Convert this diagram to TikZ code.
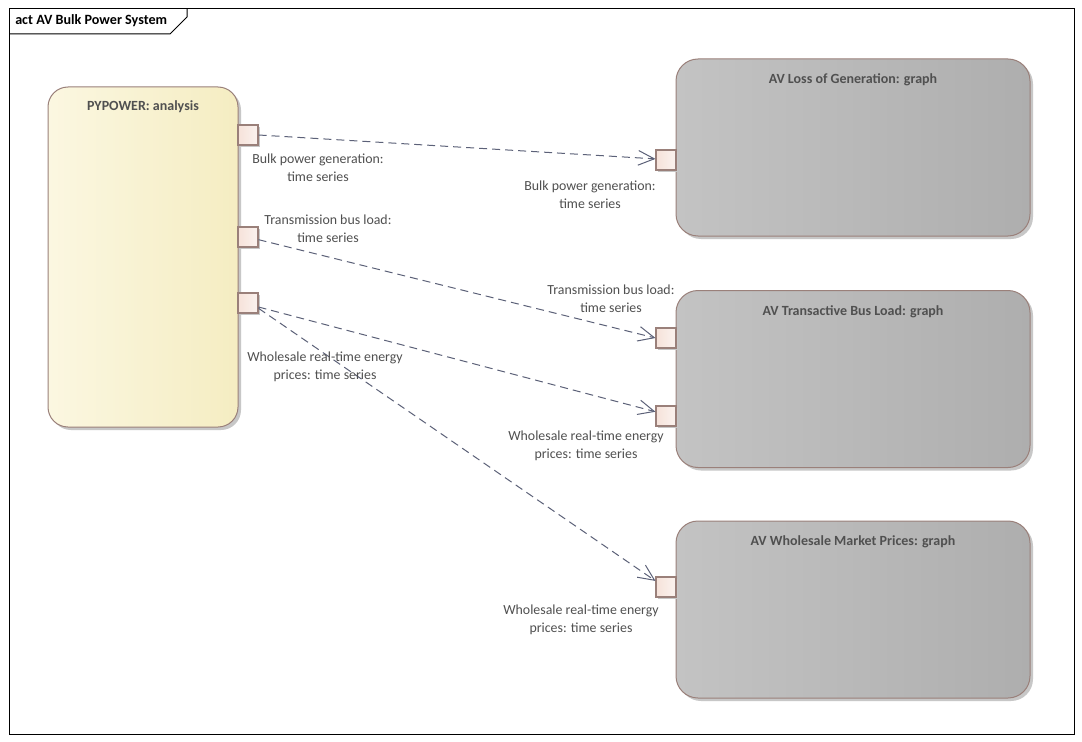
\documentclass[tikz,border=0pt]{standalone}
\usepackage{fontspec}
\setmainfont{Carlito}
\usetikzlibrary{arrows.meta,shadows}
\definecolor{txt}{HTML}{505050}
\definecolor{edgec}{HTML}{5C6178}
\definecolor{bord}{HTML}{9A807A}
\definecolor{yelL}{HTML}{FBF7E1}
\definecolor{yelR}{HTML}{F5EDC2}
\definecolor{gryL}{HTML}{C3C3C3}
\definecolor{gryR}{HTML}{AEAEAE}
\definecolor{pinL}{HTML}{F6E2DA}
\definecolor{pinR}{HTML}{FBF3EF}
\begin{document}
\begin{tikzpicture}[x=0.75pt,y=-0.75pt,
  shad/.style={drop shadow={shadow xshift=3*0.75pt, shadow yshift=-3*0.75pt, fill=black!22, opacity=1}},
  actbox/.style={draw=bord, line width=0.75pt, rounded corners=20*0.75pt, left color=yelL, right color=yelR,
    minimum width=190*0.75pt, minimum height=340*0.75pt, inner sep=0pt, shad},
  graphbox/.style={draw=bord, line width=0.75pt, rounded corners=22*0.75pt, left color=gryL, right color=gryR,
    minimum width=354*0.75pt, minimum height=177*0.75pt, inner sep=0pt, shad},
  pinbox/.style={draw=bord, line width=0.8pt, left color=pinL, right color=pinR,
    minimum size=20*0.75pt, inner sep=0pt,
    drop shadow={shadow xshift=2*0.75pt, shadow yshift=-2*0.75pt, fill=black!22, opacity=1}},
  title/.style={font=\bfseries\fontsize{10.5}{12}\selectfont, text=txt},
  lbl/.style={font=\fontsize{10.4}{13.5}\selectfont, text=txt, align=center, inner sep=0pt},
  flow/.style={draw=edgec, line width=0.75pt, dash pattern=on 6pt off 3.75pt,
    -{Straight Barb[length=12pt,width=11pt]}}
]
\useasboundingbox (0,0) rectangle (1082,742);
\fill[white] (0,0) rectangle (1082,742);
% frame
\draw[black, line width=0.75pt] (9,9) rectangle (1074,734);
\draw[black, line width=0.75pt] (9,34) -- (170,34) -- (187,17) -- (187,9);
\node[anchor=west, font=\bfseries\fontsize{10.6}{12}\selectfont, text=black, inner sep=0pt] (ftitle) at (15,21) {act AV Bulk Power System};

% main boxes
\node[actbox] (py) at (143,257) {};
\node[title] (pyt) at (143,107) {PYPOWER: analysis};

\node[graphbox] (g1) at (853,147.5) {};
\node[title] (g1t) at (853,80) {AV Loss of Generation: graph};
\node[graphbox] (g2) at (853,379) {};
\node[title] (g2t) at (853,312) {AV Transactive Bus Load: graph};
\node[graphbox] (g3) at (853,609.5) {};
\node[title] (g3t) at (853,542) {AV Wholesale Market Prices: graph};

% pins
\node[pinbox] (p1) at (248,135) {};
\node[pinbox] (p2) at (248,237) {};
\node[pinbox] (p3) at (248,303) {};
\node[pinbox] (q1) at (666,160) {};
\node[pinbox] (q2) at (666,338) {};
\node[pinbox] (q3) at (666,416) {};
\node[pinbox] (q4) at (666,587) {};

% flows
\draw[flow] (p1.east) -- (q1.174);
\draw[flow] ([yshift=-2pt]p2.east) -- (q2.west);
\draw[flow] ([yshift=-3pt]p3.east) -- (q3.158);
\draw[flow] ([yshift=-4pt]p3.east) -- (q4.150);

% labels
\node[lbl] (l1a) at (318,168) {Bulk power generation:\\time series};
\node[lbl] (l1b) at (590,194.5) {Bulk power generation:\\time series};
\node[lbl] (l2a) at (328,229) {Transmission bus load:\\time series};
\node[lbl] (l2b) at (611,298.5) {Transmission bus load:\\time series};
\node[lbl] (l3a) at (325,367) {Wholesale real-time energy\\prices: time series};
\node[lbl] (l3b) at (586,446) {Wholesale real-time energy\\prices: time series};
\node[lbl] (l4b) at (581,620) {Wholesale real-time energy\\prices: time series};
\end{tikzpicture}
\end{document}
